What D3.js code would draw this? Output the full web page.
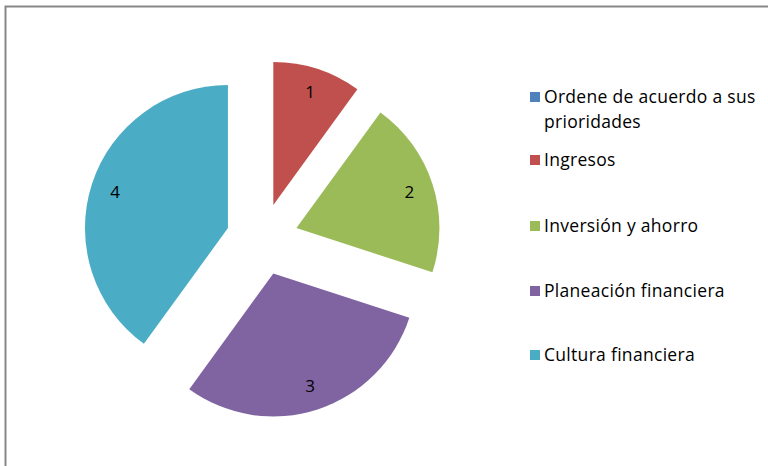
<!DOCTYPE html>
<html><head><meta charset="utf-8">
<script src="https://cdn.jsdelivr.net/npm/d3@7"></script>
<style>body{margin:0;background:#fff;} svg{display:block;}</style>
</head><body>
<svg id="chart" width="768" height="466"></svg>
<script>
const categories = ["Ordene de acuerdo a sus prioridades", "Ingresos", "Inversión y ahorro", "Planeación financiera", "Cultura financiera"];
const values = [0, 1, 2, 3, 4];
const colors = ["#4F81BD", "#C0504D", "#9BBB59", "#8064A2", "#4BACC6"];

const svg = d3.select("#chart");
const FONT = "'Open Sans', 'Liberation Sans', Arial, sans-serif";

// chart area border (cropped)
svg.append("rect").attr("x", 5.5).attr("y", 6.5).attr("width", 800).attr("height", 500)
  .attr("fill", "none").attr("stroke", "#878787").attr("stroke-width", 2);

const cx = 262.2, cy = 239.2, r = 143, explode = 36;
const pie = d3.pie().value(d => d.v).sort(null).startAngle(0).endAngle(2 * Math.PI);
const arcs = pie(categories.map((c, i) => ({ c, v: values[i], i })));
const arc = d3.arc().innerRadius(0).outerRadius(r);
const labelArc = d3.arc().innerRadius(r * 0.83).outerRadius(r * 0.83);

const g = svg.append("g").attr("transform", `translate(${cx},${cy})`);
const slice = g.selectAll("g.slice").data(arcs.filter(d => d.data.v > 0)).join("g")
  .attr("class", "slice")
  .attr("transform", d => {
    const m = (d.startAngle + d.endAngle) / 2;
    return `translate(${explode * Math.sin(m)},${-explode * Math.cos(m)})`;
  });
slice.append("path").attr("d", arc).attr("fill", d => colors[d.data.i]);
slice.append("text")
  .attr("transform", d => `translate(${labelArc.centroid(d)})`)
  .attr("text-anchor", "middle").attr("dy", "0.36em")
  .attr("font-family", FONT).attr("font-size", 17).attr("fill", "#000")
  .text(d => d.data.v);

// legend
const legendRows = [97, 160, 226, 291, 355];
const lx = 530, maxW = 228;
const leg = svg.append("g");
categories.forEach((c, i) => {
  const row = leg.append("g").attr("transform", `translate(${lx},${legendRows[i]})`);
  row.append("rect").attr("x", 0).attr("y", -5).attr("width", 10).attr("height", 10).attr("fill", colors[i]);
  const t = row.append("text").attr("x", 14).attr("y", 0)
    .attr("font-family", FONT).attr("font-size", 17.5).attr("letter-spacing", 0.3).attr("fill", "#000");
  const words = c.split(" ");
  let line = [];
  let ts = t.append("tspan").attr("x", 14).attr("dy", "0.36em");
  words.forEach(w => {
    line.push(w);
    ts.text(line.join(" "));
    if (ts.node().getComputedTextLength() > maxW && line.length > 1) {
      line.pop(); ts.text(line.join(" "));
      line = [w];
      ts = t.append("tspan").attr("x", 14).attr("dy", 25).text(w);
    }
  });
});
</script>
</body></html>
